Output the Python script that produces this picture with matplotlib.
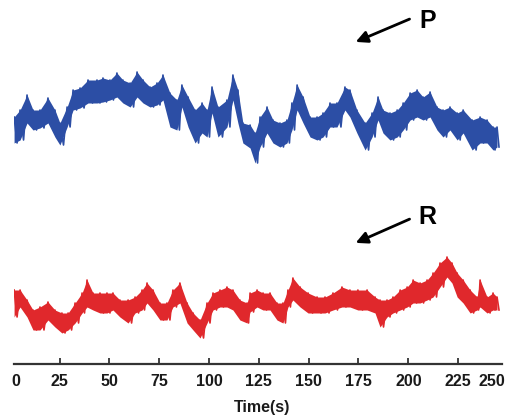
import numpy as np
import matplotlib
matplotlib.use("Agg")
from matplotlib import pyplot as plt

plt.rcParams['font.family'] = ['Liberation Sans', 'DejaVu Sans']

# ---- data (time in s, trace extent in plot rows, 0 = top) ----
blue_t = [2.2, 5.2, 8.7, 11.7, 15.2, 19.2, 22.7, 25.2, 28.8, 31.8, 35.3, 39.3, 43.8,
          46.8, 50.3, 53.8, 56.8, 60.4, 63.9, 66.9, 70.4, 73.9, 76.9, 80.4, 83.9,
          86.4, 89.5, 93.0, 96.5, 99.0, 101.5, 104.5, 109.0, 112.0, 114.5, 117.0,
          120.6, 123.1, 125.6, 129.1, 132.1, 135.6, 139.1, 141.6, 144.2, 147.2,
          150.7, 154.2, 157.2, 160.7, 164.2, 168.2, 170.7, 174.2, 178.3, 181.8,
          184.8, 187.3, 190.8, 194.4, 197.4, 200.9, 204.4, 207.4, 210.9, 214.4,
          217.4, 220.9, 224.5, 227.5, 232.0, 236.0, 239.5, 242.5, 244.5]
blue_hi = [117, 110, 95, 110, 110, 98, 110, 123, 107, 90, 88, 80, 80, 78, 80, 73, 80,
           83, 72, 80, 87, 83, 75, 93, 100, 85, 97, 110, 103, 110, 87, 107, 100, 75,
           90, 123, 125, 133, 117, 107, 120, 123, 120, 103, 85, 97, 117, 117, 113,
           103, 103, 87, 90, 110, 123, 113, 97, 110, 113, 110, 103, 93, 90, 97, 92,
           107, 110, 107, 113, 110, 120, 117, 120, 127, 127]
blue_lo = [143, 140, 123, 130, 128, 123, 137, 145, 127, 110, 108, 103, 103, 102, 100,
           97, 103, 107, 97, 103, 107, 105, 100, 127, 130, 107, 127, 143, 133, 137,
           113, 137, 127, 100, 123, 143, 148, 163, 147, 133, 143, 147, 143, 130, 110,
           123, 137, 140, 137, 127, 127, 110, 117, 133, 150, 137, 120, 133, 140, 137,
           130, 120, 117, 120, 117, 130, 137, 130, 140, 133, 150, 143, 143, 150, 147]

red_t = [2.2, 5.2, 8.7, 11.7, 15.2, 19.2, 22.7, 26.2, 29.3, 32.8, 36.3, 38.8, 41.8,
         45.3, 48.8, 51.8, 55.3, 59.4, 62.9, 66.4, 68.9, 71.9, 75.4, 78.9, 81.9,
         85.4, 89.0, 92.0, 95.5, 99.0, 102.0, 105.5, 109.0, 112.0, 115.5, 119.1,
         120.6, 124.1, 127.1, 130.6, 134.1, 137.1, 139.6, 142.1, 145.7, 149.7,
         154.2, 158.2, 162.2, 166.7, 170.7, 174.7, 179.3, 183.3, 185.8, 189.3,
         192.3, 195.9, 199.4, 202.4, 205.9, 209.4, 212.4, 215.9, 219.4, 221.9,
         224.5, 227.5, 231.0, 234.5, 236.0, 239.5, 242.5, 244.5]
red_hi = [290, 290, 300, 310, 307, 302, 310, 313, 313, 303, 293, 280, 293, 293, 293,
          293, 300, 300, 297, 290, 283, 290, 303, 303, 290, 283, 303, 313, 320, 303,
          293, 290, 287, 290, 300, 303, 293, 290, 293, 293, 303, 303, 290, 278, 287,
          293, 297, 297, 293, 287, 290, 290, 290, 297, 300, 300, 297, 290, 287, 280,
          283, 280, 273, 263, 257, 263, 273, 280, 290, 297, 280, 297, 293, 297]
red_lo = [317, 307, 317, 330, 330, 320, 327, 333, 330, 323, 313, 307, 310, 313, 313,
          310, 317, 323, 313, 310, 303, 310, 320, 320, 307, 303, 323, 330, 338, 323,
          310, 307, 307, 310, 320, 323, 312, 307, 310, 310, 320, 323, 307, 300, 307,
          313, 313, 313, 310, 307, 307, 310, 310, 313, 327, 317, 313, 310, 307, 303,
          303, 300, 297, 287, 277, 283, 297, 303, 313, 310, 307, 313, 310, 310]

tick_vals = [0, 25, 50, 75, 100, 125, 150, 175, 200, 225, 250]

BLUE = "#2c4ea5"
RED = "#e0282c"
INK = "#1a1a1a"


def draw_trace(ax, t, hi, lo, color):
    """Solid band between the envelopes plus a min/max zigzag for the ragged edge."""
    t = np.asarray(t, float)
    hi = np.asarray(hi, float)
    lo = np.asarray(lo, float)
    ax.fill_between(t, hi, lo, color=color, lw=0)
    step = np.diff(t, append=t[-1] + (t[-1] - t[-2]))
    xs = np.column_stack([t, t + step / 2]).ravel()
    ys = np.column_stack([hi, lo]).ravel()
    ax.plot(xs, ys, color=color, lw=1.2)


fig = plt.figure(figsize=(5.12, 4.19), dpi=100)
ax = fig.add_axes([14 / 512, 55 / 419, 488 / 512, 364 / 419])

draw_trace(ax, blue_t, blue_hi, blue_lo, BLUE)
draw_trace(ax, red_t, red_hi, red_lo, RED)

ax.set_xlim(2.16, 247.0)
ax.set_ylim(364, 0)

for s in ["top", "left", "right"]:
    ax.spines[s].set_visible(False)
ax.spines["bottom"].set_color("#333333")
ax.spines["bottom"].set_linewidth(1.6)
ax.set_yticks([])

# end labels sit just inside the axis line
pos = [3.0] + tick_vals[1:-1] + [242.0]
ax.set_xticks(pos)
ax.set_xticklabels([str(v) for v in tick_vals])
ax.tick_params(axis="x", direction="in", length=4, width=1.3, color="#333333",
               pad=7, labelsize=11.5, labelcolor=INK)
for lbl in ax.get_xticklabels():
    lbl.set_fontweight("bold")
ticks = ax.xaxis.get_major_ticks()
ticks[0].tick1line.set_visible(False)
ticks[-1].tick1line.set_visible(False)
fig.text(262 / 512, 1 - 407 / 419, "Time(s)", fontsize=11.5, fontweight="bold",
         color=INK, ha="center", va="center")

# arrows and labels
arrow = dict(arrowstyle="-|>,head_length=0.7,head_width=0.35", color="black", lw=2)
ax.annotate("", xy=(172.3, 43), xytext=(201.9, 18), arrowprops=arrow)
ax.annotate("", xy=(172.3, 244), xytext=(201.9, 218), arrowprops=arrow)
ax.text(209.9, 21, "P", fontsize=18, fontweight="bold", ha="center", va="center")
ax.text(209.4, 217, "R", fontsize=18, fontweight="bold", ha="center", va="center")

fig.savefig("out.png", dpi=100)
